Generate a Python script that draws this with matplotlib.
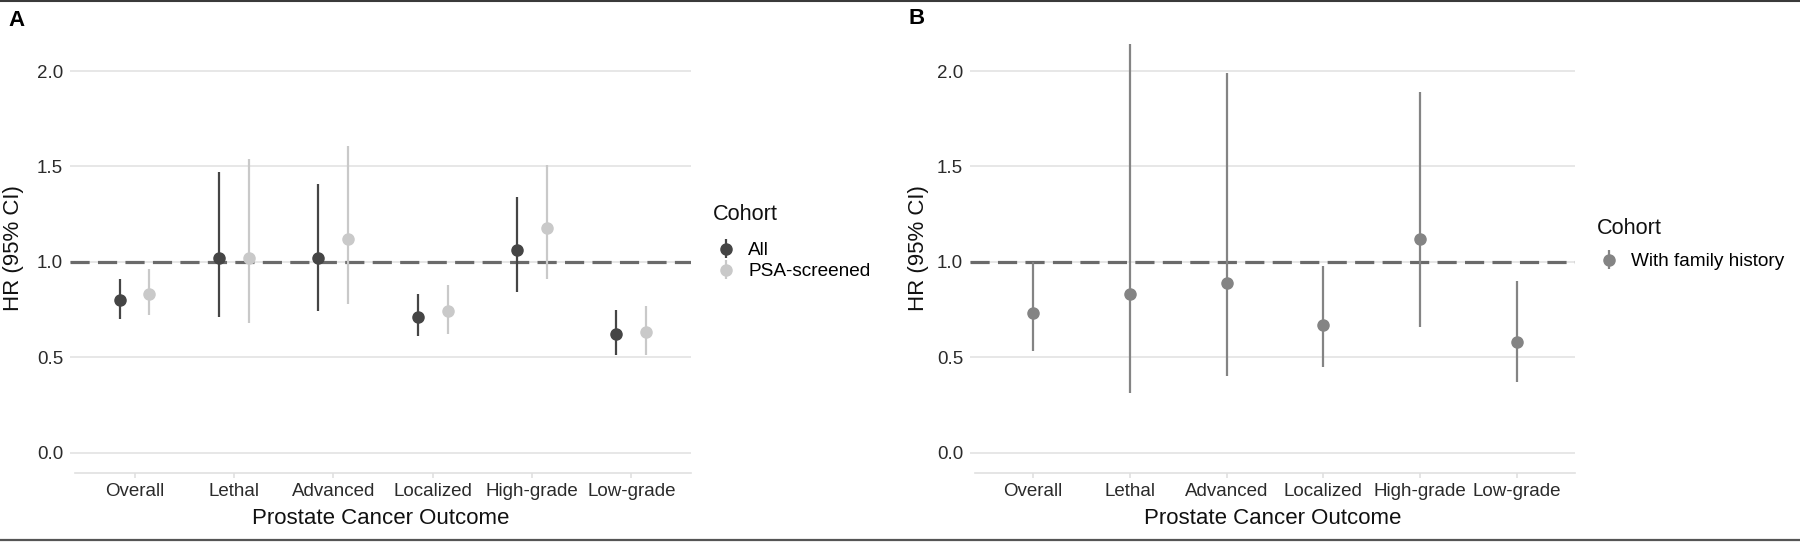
import numpy as np
import matplotlib
matplotlib.use("Agg")
import matplotlib.pyplot as plt
from matplotlib.lines import Line2D

plt.rcParams["font.family"] = ["Liberation Sans", "DejaVu Sans"]

outcomes = ["Overall", "Lethal", "Advanced", "Localized", "High-grade", "Low-grade"]

# Panel A: all participants vs PSA-screened
hr_all = [0.80, 1.02, 1.02, 0.71, 1.06, 0.62]
lo_all = [0.70, 0.71, 0.74, 0.61, 0.84, 0.51]
hi_all = [0.91, 1.47, 1.41, 0.83, 1.34, 0.75]

hr_psa = [0.83, 1.02, 1.12, 0.74, 1.18, 0.63]
lo_psa = [0.72, 0.68, 0.78, 0.62, 0.91, 0.51]
hi_psa = [0.96, 1.54, 1.61, 0.88, 1.51, 0.77]

# Panel B: with family history
hr_fam = [0.73, 0.83, 0.89, 0.67, 1.12, 0.58]
lo_fam = [0.53, 0.31, 0.40, 0.45, 0.66, 0.37]
hi_fam = [1.00, 2.14, 1.99, 0.98, 1.89, 0.90]

C_ALL = "#454545"
C_PSA = "#c9c9c9"
C_FAM = "#848484"
GRID = "#e0e0e0"
TXT = "#2b2b2b"

W, H = 1800, 543
fig = plt.figure(figsize=(W / 100, H / 100), dpi=100)


def px_axes(x0, x1, y0, y1):
    return fig.add_axes([x0 / W, 1 - y1 / H, (x1 - x0) / W, (y1 - y0) / H])


def pointrange(ax, x, hr, lo, hi, color, label):
    hr = np.asarray(hr)
    err = [hr - np.asarray(lo), np.asarray(hi) - hr]
    return ax.errorbar(x, hr, yerr=err, fmt="o", color=color, ecolor=color,
                       elinewidth=1.6, capsize=0, markersize=8, label=label,
                       zorder=3)


def style(ax):
    ax.set_xlim(0.35, 6.6)
    ax.set_ylim(-0.107, 2.247)
    ax.set_yticks([0.0, 0.5, 1.0, 1.5, 2.0])
    ax.set_yticklabels(["0.0", "0.5", "1.0", "1.5", "2.0"])
    ax.set_xticks(np.arange(1, 7))
    ax.set_xticklabels(outcomes)
    for s in ["top", "right", "left"]:
        ax.spines[s].set_visible(False)
    ax.spines["bottom"].set_color(GRID)
    ax.spines["bottom"].set_linewidth(1.2)
    ax.spines["bottom"].set_bounds(0.4, 6.6)
    ax.grid(axis="y", color=GRID, linewidth=1.1, zorder=0)
    ax.set_axisbelow(True)
    ax.tick_params(axis="y", length=0, pad=5, labelsize=13.5, labelcolor=TXT)
    ax.tick_params(axis="x", length=3.5, color=GRID, width=1.2, pad=4,
                   labelsize=13.5, labelcolor=TXT)
    ax.axhline(1.0, color="#6a6a6a", linewidth=2.3, dashes=(6, 2.6), zorder=2)
    ax.set_xlabel("Prostate Cancer Outcome", fontsize=16, color="#111111")
    ax.set_ylabel("HR (95% CI)", fontsize=16, color="#111111")
    ax.xaxis.set_label_coords(0.5, -0.078)


def legend(ax, handles, x_px, top_px):
    return ax.legend(handles=handles, loc="upper left",
                     bbox_to_anchor=(x_px / W, 1 - top_px / H),
                     bbox_transform=fig.transFigure, frameon=False,
                     fontsize=13.7, handlelength=1.0, handletextpad=0.7,
                     labelspacing=0.2, borderpad=0, borderaxespad=0)


x = np.arange(1, 7)

# ---- panel A
axA = px_axes(70, 691, 24, 473)
style(axA)
axA.yaxis.set_label_coords((24 - 70) / 621, 0.5)
hA1 = pointrange(axA, x - 0.15, hr_all, lo_all, hi_all, C_ALL, "All")
hA2 = pointrange(axA, x + 0.15, hr_psa, lo_psa, hi_psa, C_PSA, "PSA-screened")
legend(axA, [hA1, hA2], 716, 242)
fig.text(713 / W, 1 - 215 / H, "Cohort", fontsize=15.6, va="center",
         color="#111111")

# ---- panel B
axB = px_axes(970, 1575, 24, 473)
style(axB)
axB.yaxis.set_label_coords((929 - 970) / 605, 0.5)
hB = pointrange(axB, x, hr_fam, lo_fam, hi_fam, C_FAM, "With family history")
legend(axB, [hB], 1599, 253)
fig.text(1597 / W, 1 - 229 / H, "Cohort", fontsize=15.6, va="center",
         color="#111111")

# panel tags
fig.text(8 / W, 1 - 20 / H, "A", fontsize=16, fontweight="bold", va="center")
fig.text(908 / W, 1 - 19 / H, "B", fontsize=16, fontweight="bold", va="center")

# frame lines at top and bottom
fig.add_artist(Line2D([0, 1], [1 - 1 / H, 1 - 1 / H], transform=fig.transFigure,
                      color="#3a3a3a", linewidth=1.5))
fig.add_artist(Line2D([0, 1], [3 / H, 3 / H], transform=fig.transFigure,
                      color="#555555", linewidth=1.6))

fig.savefig("out.png", dpi=100)
